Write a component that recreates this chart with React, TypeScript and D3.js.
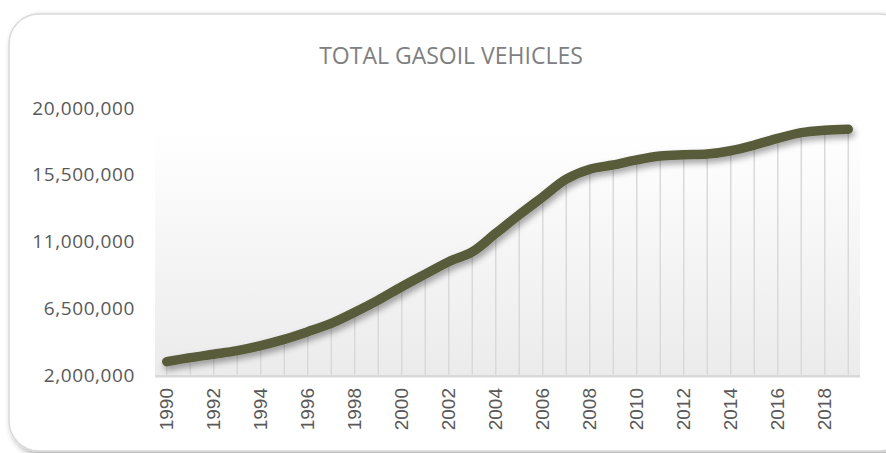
import { useEffect, useRef } from 'react';
import * as d3 from 'd3';

const years = d3.range(1990, 2020);
const vehicles = [
  2900000, 3170000, 3400000, 3640000, 3980000, 4400000, 4920000, 5480000, 6230000, 7050000,
  7950000, 8800000, 9640000, 10300000, 11550000, 12800000, 14000000, 15200000, 15870000, 16160000,
  16500000, 16760000, 16850000, 16900000, 17120000, 17500000, 17950000, 18340000, 18500000, 18570000,
];
const yTicks = [2000000, 6500000, 11000000, 15500000, 20000000];
const title = 'TOTAL GASOIL VEHICLES';

export default function App() {
  const svgRef = useRef<SVGSVGElement>(null);

  useEffect(() => {
    document.body.style.margin = '0';
    if (!svgRef.current) return;

    const width = 886;
    const height = 453;
    const margin = { top: 108, right: 26, bottom: 78, left: 155 };

    const svg = d3.select(svgRef.current);
    svg.selectAll('*').remove();
    svg.attr('width', width).attr('height', height);

    const defs = svg.append('defs');
    const grad = defs.append('linearGradient')
      .attr('id', 'plotBg')
      .attr('x1', 0).attr('y1', 0).attr('x2', 0).attr('y2', 1);
    grad.append('stop').attr('offset', '0%').attr('stop-color', '#ffffff');
    grad.append('stop').attr('offset', '100%').attr('stop-color', '#ebebeb');

    const shadow = defs.append('filter').attr('id', 'lineShadow')
      .attr('x', '-10%').attr('y', '-20%').attr('width', '120%').attr('height', '150%');
    shadow.append('feDropShadow')
      .attr('dx', 2).attr('dy', 4).attr('stdDeviation', 3)
      .attr('flood-color', '#000').attr('flood-opacity', 0.35);

    const boxShadow = defs.append('filter').attr('id', 'boxShadow')
      .attr('x', '-5%').attr('y', '-5%').attr('width', '115%').attr('height', '115%');
    boxShadow.append('feDropShadow')
      .attr('dx', 3).attr('dy', 3).attr('stdDeviation', 3)
      .attr('flood-color', '#000').attr('flood-opacity', 0.35);

    // chart frame
    svg.append('rect')
      .attr('x', 9).attr('y', 14)
      .attr('width', 900).attr('height', 437)
      .attr('rx', 30)
      .attr('fill', '#fff')
      .attr('stroke', '#d9d9d9')
      .attr('stroke-width', 1.5)
      .attr('filter', 'url(#boxShadow)');

    const x = d3.scaleBand<number>()
      .domain(years)
      .range([margin.left, width - margin.right]);

    const y = d3.scaleLinear()
      .domain([2000000, 20000000])
      .range([height - margin.bottom, margin.top]);

    const cx = (d: number) => (x(d) ?? 0) + x.bandwidth() / 2;

    // plot area background
    svg.append('rect')
      .attr('x', margin.left)
      .attr('y', 130)
      .attr('width', width - margin.right - margin.left)
      .attr('height', y(2000000) + 3 - 130)
      .attr('fill', 'url(#plotBg)');

    // drop lines
    svg.append('g')
      .selectAll('line')
      .data(years)
      .join('line')
      .attr('x1', d => cx(d))
      .attr('x2', d => cx(d))
      .attr('y1', (d, i) => y(vehicles[i]))
      .attr('y2', y(2000000))
      .attr('stroke', '#d9d9d9')
      .attr('stroke-width', 1.5);

    // axis line
    svg.append('line')
      .attr('x1', margin.left)
      .attr('x2', width - margin.right)
      .attr('y1', y(2000000) + 1)
      .attr('y2', y(2000000) + 1)
      .attr('stroke', '#d9d9d9')
      .attr('stroke-width', 2);

    // line
    const line = d3.line<number>()
      .x((d, i) => cx(years[i]))
      .y(d => y(d))
      .curve(d3.curveCatmullRom.alpha(0.5));

    svg.append('path')
      .datum(vehicles)
      .attr('fill', 'none')
      .attr('stroke', '#585c3a')
      .attr('stroke-width', 9.5)
      .attr('stroke-linecap', 'round')
      .attr('stroke-linejoin', 'round')
      .attr('filter', 'url(#lineShadow)')
      .attr('d', line);

    // y labels
    svg.append('g')
      .selectAll('text')
      .data(yTicks)
      .join('text')
      .attr('x', 135)
      .attr('y', d => y(d))
      .attr('dy', '0.35em')
      .attr('text-anchor', 'end')
      .attr('font-family', '"Open Sans", sans-serif')
      .attr('font-size', 19)
      .attr('letter-spacing', 0.6)
      .attr('fill', '#595959')
      .text(d => d3.format(',')(d));

    // x labels
    svg.append('g')
      .selectAll('text')
      .data(years.filter((d, i) => i % 2 === 0))
      .join('text')
      .attr('transform', d => `translate(${cx(d)},388) rotate(-90)`)
      .attr('dy', '0.35em')
      .attr('text-anchor', 'end')
      .attr('font-family', '"Liberation Sans", Arial, sans-serif')
      .attr('font-size', 19)
      .attr('fill', '#595959')
      .text(d => d);

    // title
    svg.append('text')
      .attr('x', 451)
      .attr('y', 64)
      .attr('text-anchor', 'middle')
      .attr('font-family', '"Open Sans", sans-serif')
      .attr('font-size', 23)
      .attr('fill', '#808080')
      .text(title);
  }, []);

  return <svg ref={svgRef}></svg>;
}
